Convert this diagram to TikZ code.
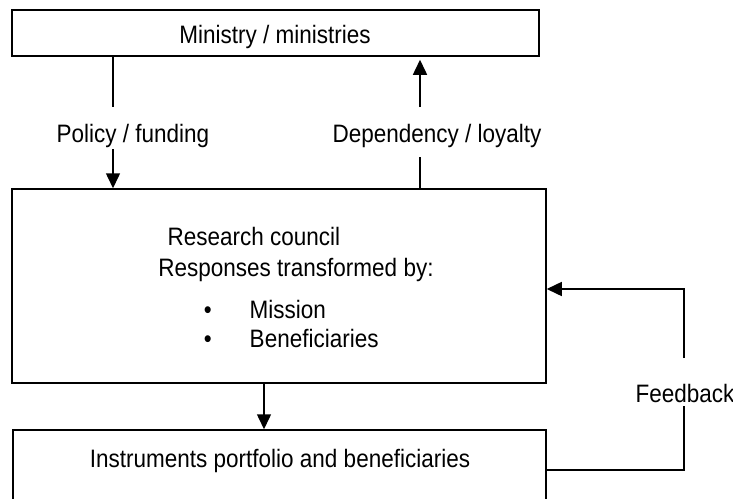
\documentclass[tikz,border=0pt]{standalone}
\usepackage{fontspec}
\setmainfont{Liberation Sans}
\usetikzlibrary{arrows.meta}

\newcommand{\bulletitem}{\makebox[46pt][l]{\textbullet}}

\begin{document}
\begin{tikzpicture}[x=1pt, y=-1pt, line width=1.5pt,
        every node/.style={font=\fontsize{22.5}{27}\selectfont, inner sep=0pt},
        txt/.style={yscale=1.12, transform shape},
        box/.style={draw, rectangle},
        arr/.style={-{Triangle[length=15pt, width=14pt]}}]
        \useasboundingbox (0,0) rectangle (733,498);
        \node[box, minimum width=527pt, minimum height=46pt] (ministry) at (275.5,33) {};
        \node[box, minimum width=534pt, minimum height=194pt] (council) at (279,286) {};
        \node[box, minimum width=533pt, minimum height=100pt] (instr) at (279.5,480) {};
        % labels and texts
        \node[txt] (mtext) at (275,37) {Ministry / ministries};
        \node[txt] (policy) at (133,136) {Policy / funding};
        \node[txt] (depend) at (437,136) {Dependency / loyalty};
        \node[txt] (rc) at (254,236) {Research council};
        \node[txt] (resp) at (296,270) {Responses transformed by:};
        \node[txt, anchor=west] (mission) at (203,309) {\bulletitem Mission};
        \node[txt, anchor=west] (benef) at (203,338) {\bulletitem Beneficiaries};
        \node[txt] (instrtext) at (280,461) {Instruments portfolio and beneficiaries};
        \node[txt] (fb) at (685,393) {Feedback};
        % connector ends
        \coordinate (polA) at (113,107);
        \coordinate (polB) at (113,149);
        \coordinate (depA) at (420,107);
        \coordinate (depB) at (420,157);
        \coordinate (down) at (264,400);
        \coordinate (fbA) at (684,358);
        \coordinate (fbB) at (684,406);
        \coordinate (fbC) at (684,470);
        \coordinate (fbD) at (684,289);
        \draw (ministry.south -| polA) -- (polA);
        \draw[arr] (polB) -- (council.north -| polB);
        \draw[arr] (depA) -- ([yshift=-3pt]ministry.south -| depA);
        \draw (depB) -- (council.north -| depB);
        \draw[arr] (council.south -| down) -- (instr.north -| down);
        \draw (instr.east |- fbC) -- (fbC) -- (fbB);
        \draw[arr] (fbA) -- (fbD) -- (council.east |- fbD);
    \end{tikzpicture}
\end{document}
